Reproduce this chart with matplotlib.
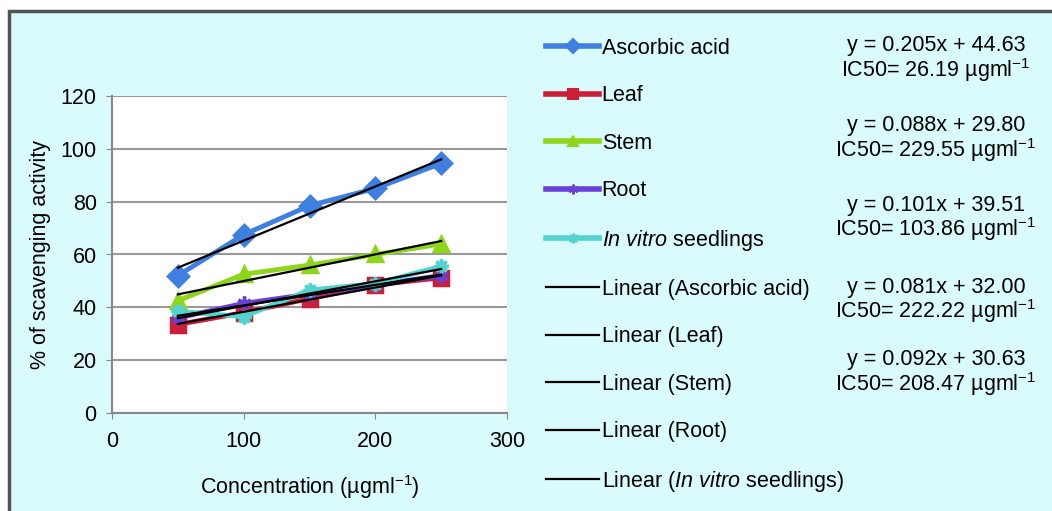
import numpy as np
import matplotlib
matplotlib.use("Agg")
import matplotlib.pyplot as plt
from matplotlib.lines import Line2D
from matplotlib.patches import Rectangle

plt.rcParams['font.family'] = ['Liberation Sans', 'DejaVu Sans']
plt.rcParams['mathtext.fontset'] = 'custom'
plt.rcParams['mathtext.rm'] = 'Liberation Sans'
plt.rcParams['mathtext.it'] = 'Liberation Sans:italic'

conc = [50, 100, 150, 200, 250]
ascorbic = [52, 67.5, 78.5, 85, 94.5]
leaf = [33.5, 38, 43.3, 48.5, 51.2]
stem = [42.5, 52.5, 56, 60, 64]
root = [36, 41.5, 45, 48.5, 52]
invitro = [38.5, 36.5, 46.5, 49, 55.5]

names = ['Ascorbic acid', 'Leaf', 'Stem', 'Root', r'$\it{In\ vitro}$ seedlings']
trend_names = ['Linear (Ascorbic acid)', 'Linear (Leaf)', 'Linear (Stem)',
               'Linear (Root)', r'Linear ($\it{In\ vitro}$ seedlings)']
colors = ['#3f7fe0', '#cc1f3a', '#8ed61c', '#6a3fd6', '#52d3d0']
markers = ['D', 's', '^', (6, 2, 0), (8, 2, 0)]

equations = ['y = 0.205x + 44.63', 'y = 0.088x + 29.80', 'y = 0.101x + 39.51',
             'y = 0.081x + 32.00', 'y = 0.092x + 30.63']
ic50 = ['26.19', '229.55', '103.86', '222.22', '208.47']

fs = 15.5
bg = '#d9fbfb'
fig = plt.figure(figsize=(10.52, 5.11), dpi=100, facecolor='white')
fig.patches.append(Rectangle((9 / 1052, -0.05), 1.1, 1 - 11 / 511 + 0.05,
                             transform=fig.transFigure, facecolor=bg,
                             edgecolor='#505555', linewidth=2.5, zorder=-10))

ax = fig.add_axes([112 / 1052, 1 - 413 / 511, 395 / 1052, 317 / 511])
ax.set_facecolor('white')

series = [ascorbic, leaf, stem, root, invitro]
for y, c, m in zip(series, colors, markers):
    ax.plot(conc, y, color=c, lw=3.5, marker=m, ms=10, mew=2.5, mec=c, mfc=c, zorder=3)

# trend lines
xs = np.array([50, 250])
for y in series:
    k, b = np.polyfit(conc, y, 1)
    ax.plot(xs, k * xs + b, color='black', lw=1.6, zorder=4)

ax.set_xlim(0, 300)
ax.set_ylim(0, 120)
ax.set_xticks([0, 100, 200, 300])
ax.set_yticks(range(0, 121, 20))
ax.grid(axis='y', color='#999999', lw=1.5)
ax.set_axisbelow(True)
for s in ['top', 'right']:
    ax.spines[s].set_visible(False)
for s in ['left', 'bottom']:
    ax.spines[s].set_color('#888888')
    ax.spines[s].set_linewidth(1.5)
ax.tick_params(axis='both', labelsize=fs, color='#888888', length=4, pad=7)
ax.tick_params(axis='x', pad=9)
ax.set_xlabel(r'Concentration (µgml$^{-1}$)', fontsize=fs, labelpad=15)
ax.set_ylabel('% of scavenging activity', fontsize=fs, labelpad=7)

handles = []
for c, m in zip(colors, markers):
    handles.append(Line2D([], [], color=c, lw=4, marker=m, ms=7, mec=c, mfc=c, mew=1.5))
for i in range(5):
    handles.append(Line2D([], [], color='black', lw=1.6))
fig.legend(handles, names + trend_names, loc='upper left',
           bbox_to_anchor=(537 / 1052, 1 - 29 / 511), frameon=False,
           fontsize=fs, handlelength=2.5, handletextpad=0.1,
           labelspacing=1.23, borderaxespad=0)

eq_y = [46, 126, 205, 287, 360]
for e, ic, yy in zip(equations, ic50, eq_y):
    fig.text(936 / 1052, 1 - yy / 511, e, ha='center', va='center', fontsize=fs)
    fig.text(936 / 1052, 1 - (yy + 24) / 511, 'IC50= ' + ic + r' µgml$^{-1}$',
             ha='center', va='center', fontsize=fs)

fig.savefig('out.png', dpi=100, facecolor='white')
